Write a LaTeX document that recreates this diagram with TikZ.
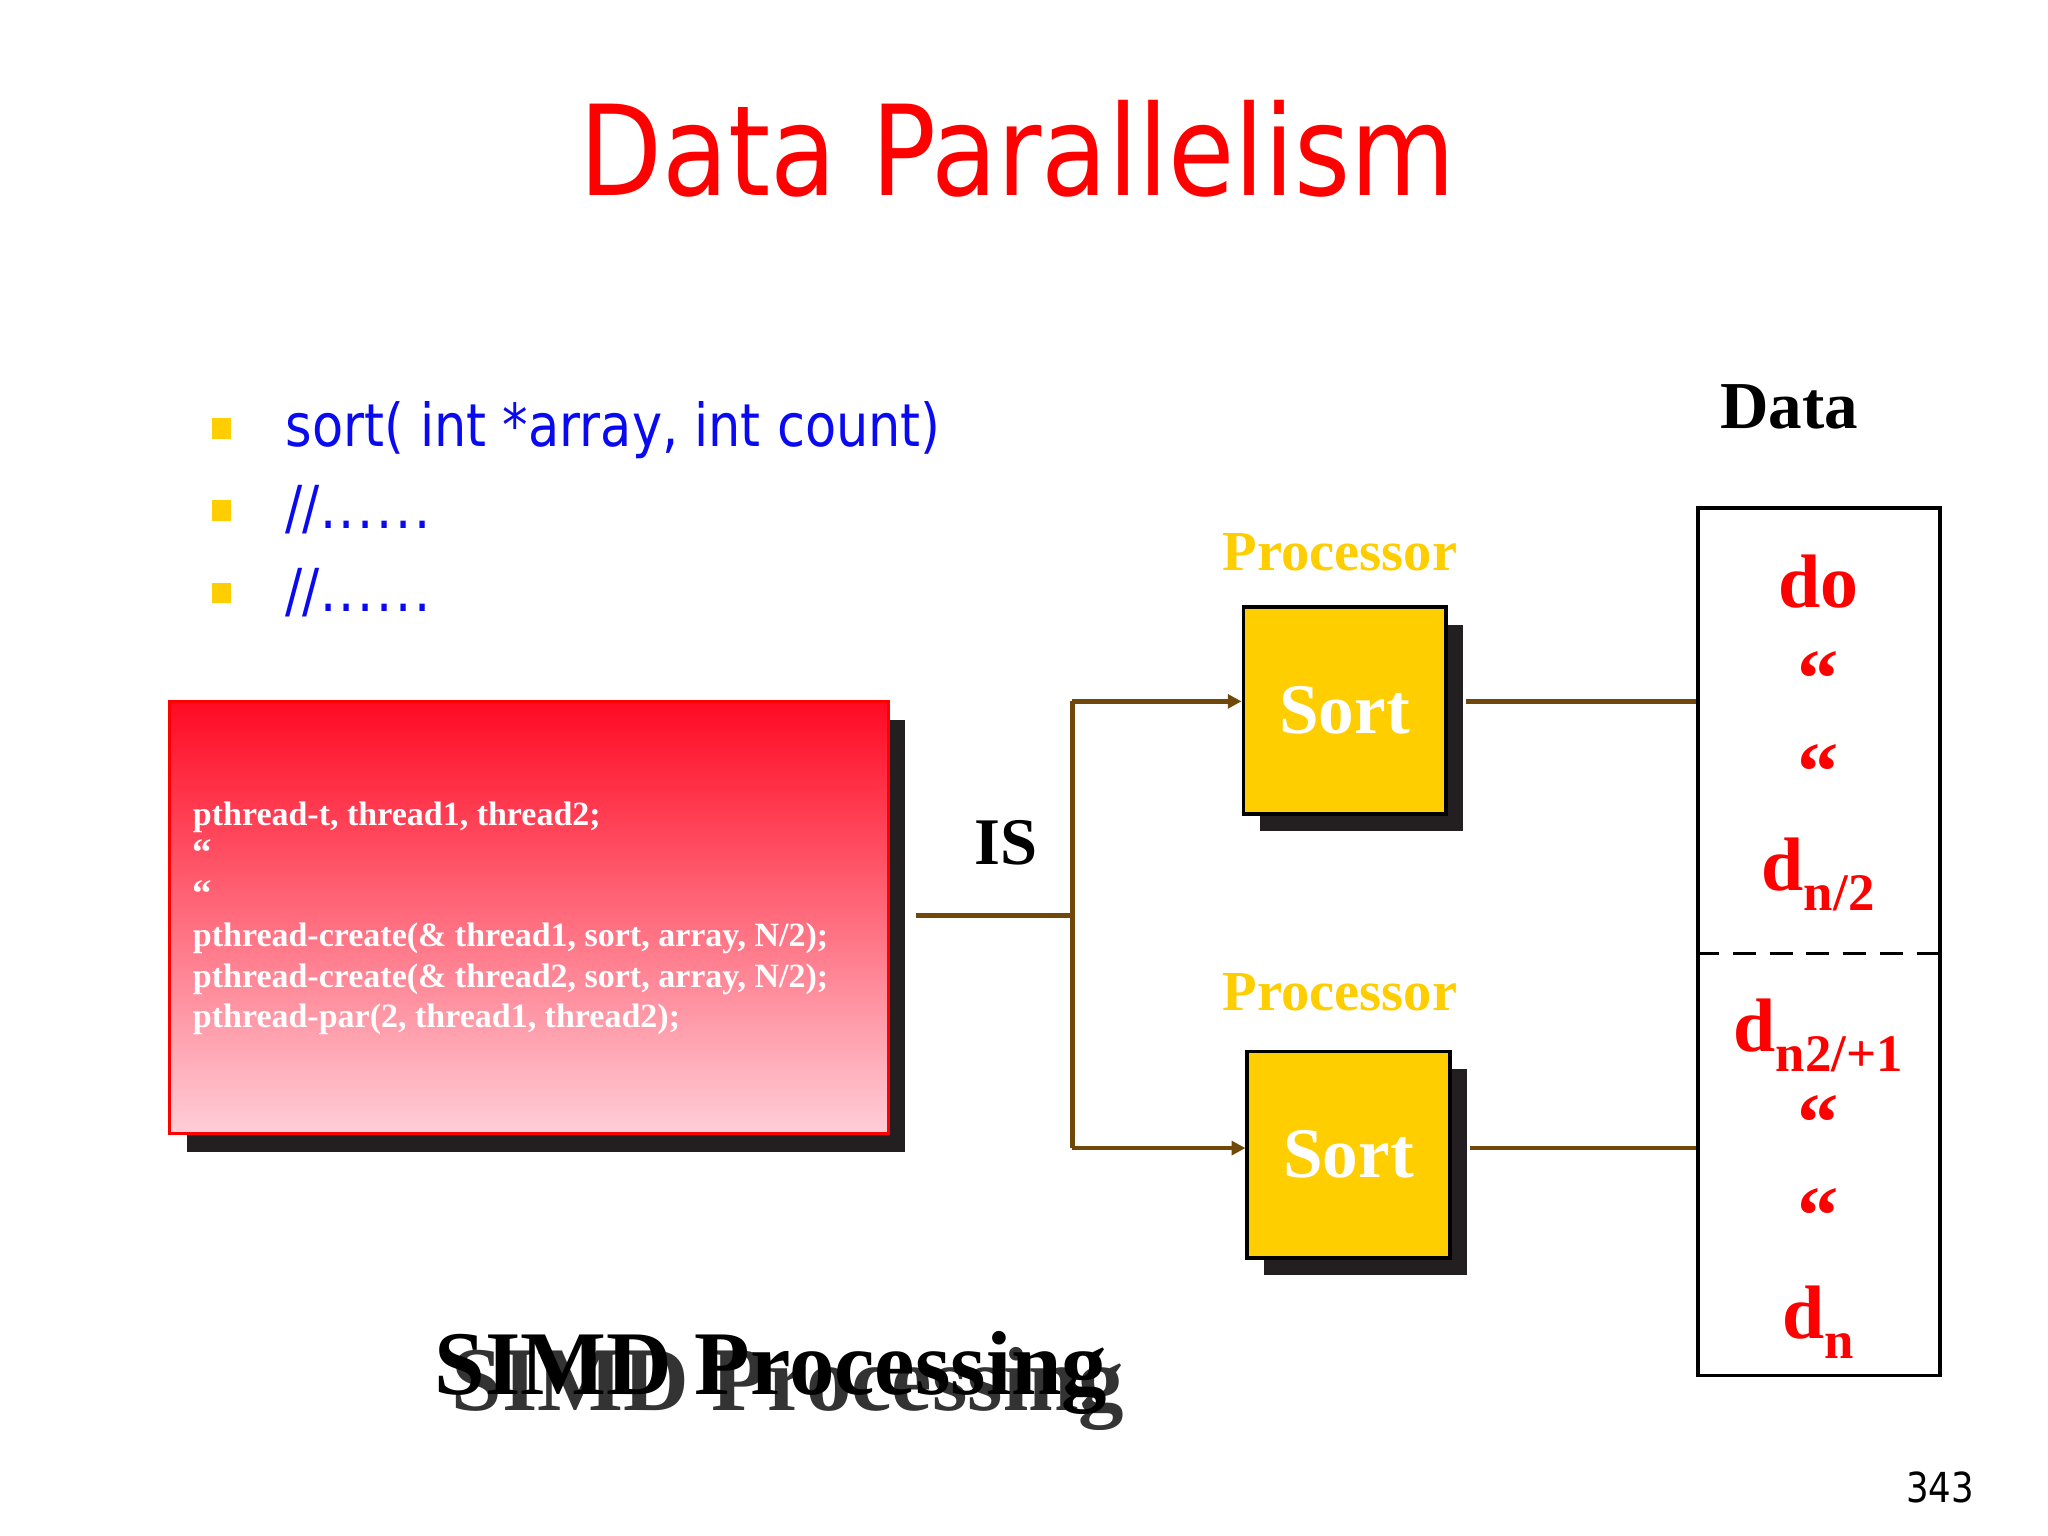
\documentclass[tikz,border=0pt]{standalone}
\usepackage{fontspec}
\setmainfont{Liberation Serif}
\newfontfamily\tahoma[FakeStretch=0.86]{DejaVu Sans}
\usepackage{xcolor}
\usetikzlibrary{arrows.meta, positioning, shadows}

\definecolor{slidered}{RGB}{255,0,0}
\definecolor{slideblue}{RGB}{10,10,240}
\definecolor{slideyellow}{RGB}{255,206,0}
\definecolor{wirebrown}{RGB}{112,72,10}
\definecolor{shadowgray}{RGB}{35,31,32}
\definecolor{gradtop}{RGB}{255,10,35}
\definecolor{gradbottom}{RGB}{255,206,216}

\newcommand\dsub[1]{\raisebox{-4.3pt}{\fontsize{11.5}{12}\selectfont #1}}
\newcommand\commentdots{//.\kern0.6pt.\kern0.6pt.\kern0.6pt.\kern0.6pt.\kern0.6pt.}

\begin{document}
\begin{tikzpicture}[
        x=0.01cm, y=-0.01cm,
        title/.style={font=\tahoma\fontsize{27.3}{30}\selectfont, text=slidered, inner sep=0, anchor=base},
        bullet/.style={rectangle, fill=slideyellow, minimum width=0.15cm, minimum height=0.16cm, inner sep=0},
        listtext/.style={font=\tahoma\fontsize{12.9}{15}\selectfont, text=slideblue, inner sep=0, anchor=base west},
        codebox/.style={rectangle, draw=slidered, line width=0.6pt, top color=gradtop, bottom color=gradbottom,
            minimum width=5.5cm, minimum height=3.31cm,
            drop shadow={shadow xshift=0.13cm, shadow yshift=-0.14cm, fill=shadowgray, opacity=1}},
        codeline/.style={font=\bfseries\fontsize{7.4}{8}\selectfont, text=white, inner sep=0, anchor=base west},
        sortbox/.style={rectangle, draw=black, line width=0.8pt, fill=slideyellow, text=white,
            minimum width=1.55cm, minimum height=1.58cm, font=\bfseries\fontsize{15.5}{17}\selectfont,
            drop shadow={shadow xshift=0.13cm, shadow yshift=-0.135cm, fill=shadowgray, opacity=1}},
        proclabel/.style={font=\bfseries\fontsize{12.3}{14}\selectfont, text=slideyellow, inner sep=0},
        databox/.style={rectangle, draw=black, line width=0.8pt, minimum width=1.85cm, minimum height=6.64cm},
        datatext/.style={font=\bfseries\fontsize{16.5}{18}\selectfont, text=slidered, inner sep=0, anchor=base},
        quotemark/.style={font=\bfseries\fontsize{18}{19}\selectfont, text=slidered, inner sep=0, anchor=north},
        wire/.style={draw=wirebrown, line width=1pt},
        arrow/.style={wire, -{Triangle[length=3pt, width=3pt]}}
    ]
        \fill[white] (0,0) rectangle (1568,1176);
        \useasboundingbox (0,0) rectangle (1568,1176);

        % Title and list
        \node[title] (title) at (779,150) {Data Parallelism};
        \foreach \txt [count=\i from 0] in {{sort( int *array, int count)}, {\commentdots}, {\commentdots}} {
            \node[bullet] (bul\i) at (169.5,{328+63*\i}) {};
            \node[listtext] (item\i) at (218,{342+63*\i}) {\txt};
        }

        % Code box
        \node[codebox] (code) at (405,702.5) {};
        \foreach \txt [count=\i from 0] in {{pthread-t, thread1, thread2;}, {\fontsize{8.5}{9}\selectfont“}, {\fontsize{8.5}{9}\selectfont“},
                {pthread-create(\& thread1, sort, array, N/2);},
                {pthread-create(\& thread2, sort, array, N/2);},
                {pthread-par(2, thread1, thread2);}} {
            \node[codeline] (line\i) at (147,{632+31*\i}) {\txt};
        }
        \node[font=\bfseries\fontsize{14.5}{16}\selectfont, inner sep=0, anchor=base] (is) at (770,662) {IS};

        % Processors
        \node[sortbox] (sort1) at (1029.5,544) {Sort};
        \node[sortbox] (sort2) at (1032.5,884) {Sort};
        \node[proclabel, above=7.2pt of sort1, xshift=-0.35mm] (proc1) {Processor};
        \node[proclabel, above=8.2pt of sort2, xshift=-0.65mm] (proc2) {Processor};

        % Data
        \node[font=\bfseries\fontsize{14.6}{16}\selectfont, inner sep=0, anchor=base] (datalabel) at (1370,328) {Data};
        \node[databox] (data) at (1392.5,721) {};
        \coordinate (half) at (1392.5,730);
        \draw[black, line width=0.8pt, dash pattern=on 5pt off 3pt] (data.west |- half) -- (data.east |- half);
        \node[datatext] (d0) at (1392,465) {do};
        \node[quotemark] (q1) at (1392,498) {“};
        \node[quotemark] (q2) at (1392,569) {“};
        \node[datatext] (dhalf) at (1392,682) {d\dsub{n/2}};
        \node[datatext] (dnext) at (1392,805) {d\dsub{n2/+1}};
        \node[quotemark] (q3) at (1392,838) {“};
        \node[quotemark] (q4) at (1392,909) {“};
        \node[datatext] (dn) at (1392,1025) {d\dsub{n}};

        % Footer
        \node[font=\bfseries\fontsize{19.8}{22}\selectfont, text=black!80, inner sep=0, anchor=base west] (simdshadow) at (345,1080) {SIMD Processing};
        \node[font=\bfseries\fontsize{19.8}{22}\selectfont, inner sep=0, anchor=base west] (simd) at (332,1068) {SIMD Processing};
        \node[font=\tahoma\fontsize{9}{10}\selectfont, inner sep=0, anchor=base east] (page) at (1512,1150) {343};

        % Arrows
        \coordinate (fork) at (821,701);
        \coordinate (up) at (821,537);
        \coordinate (down) at (821,879);
        \draw[wire] ([xshift=0.2cm]code.east |- fork) -- (fork);
        \draw[wire] (up) -- (down);
        \draw[arrow] (up) -- (up -| sort1.west);
        \draw[arrow] (down) -- (down -| sort2.west);
        \draw[wire] ([xshift=0.14cm]sort1.east |- up) -- (up -| data.west);
        \draw[wire] ([xshift=0.14cm]sort2.east |- down) -- (down -| data.west);
    \end{tikzpicture}
\end{document}
